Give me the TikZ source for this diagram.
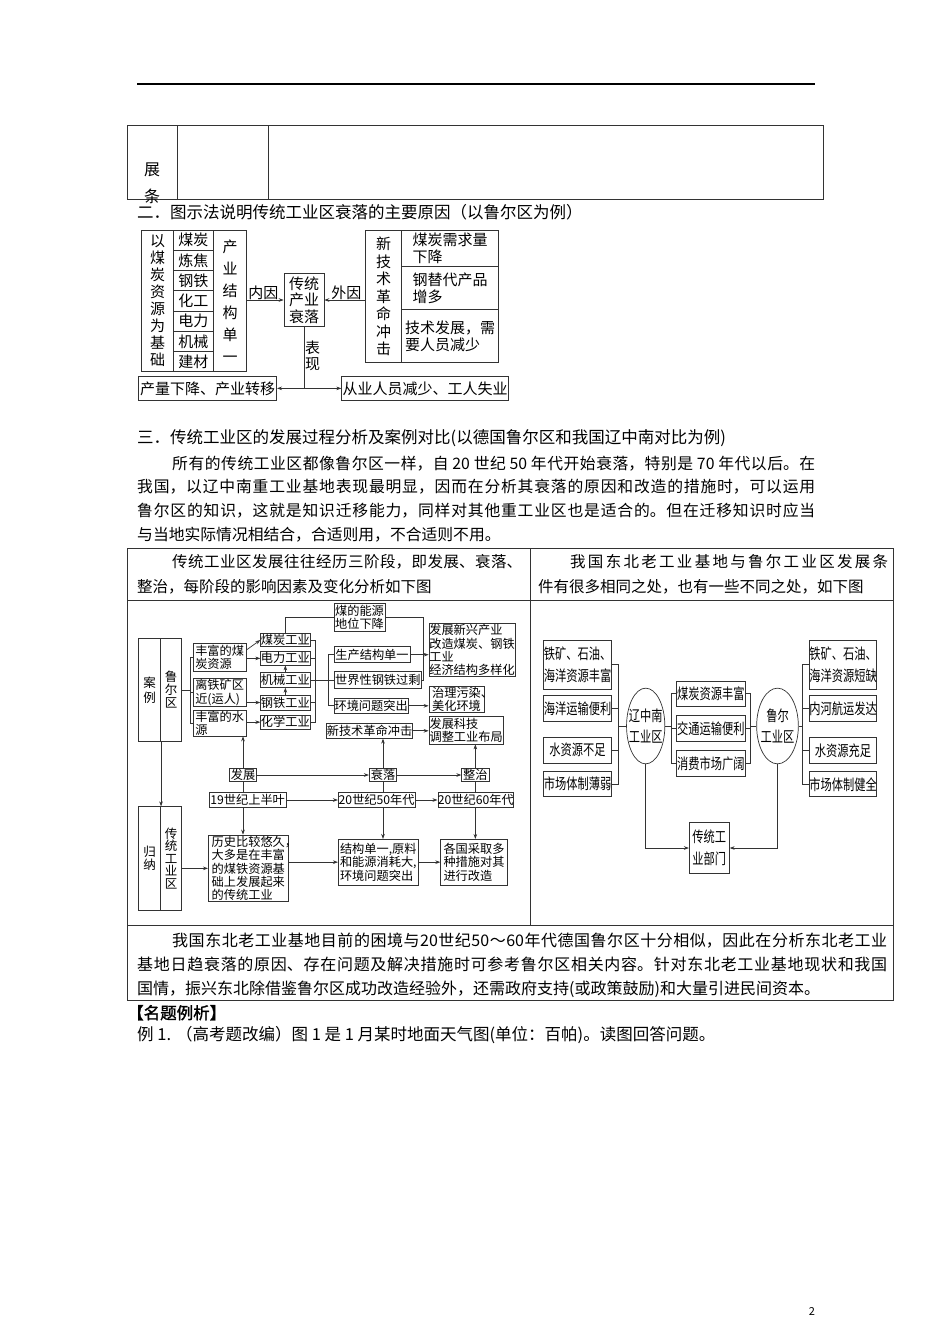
\documentclass[tikz,border=0pt]{standalone}
\usepackage{fontspec}
\setmainfont{Noto Sans CJK SC}
\newfontfamily\narrowf[FakeStretch=0.75]{Noto Sans CJK SC}
\newfontfamily\boldf[FakeBold=1.5]{Noto Sans CJK SC}
\usetikzlibrary{arrows.meta,shapes.geometric}
\XeTeXlinebreaklocale "zh"
\XeTeXlinebreakskip=0pt plus 4pt minus 0.5pt
\newcommand\bx[7][]{\node[B,#1,minimum width={(#5)-(#3)},minimum height={(#6)-(#4)}] (#2) at ({((#3)+(#5))/2},{((#4)+(#6))/2}) {#7};}
\begin{document}
\begin{tikzpicture}[x=1pt,y=-1pt,
  B/.style={draw=black!80,line width=0.7pt,inner sep=0pt,align=center},
  fA/.style={font=\fontsize{15}{17}\selectfont},
  fB/.style={font=\fontsize{12.2}{13.3}\selectfont},
  fC/.style={font=\narrowf\fontsize{15}{21.7}\selectfont},
  ln/.style={draw=black!80,line width=0.7pt},
  ar/.style={ln,-{Stealth[length=5pt,width=3.6pt]}},
  T/.style={inner sep=0pt,anchor=base west},
  rule/.style={draw=black!80,line width=0.9pt},
  para/.style={inner sep=0pt,anchor=base west,align=justify},
  E/.style={ellipse,draw=black!80,line width=0.7pt,inner sep=0pt}]
\useasboundingbox (0,0) rectangle (950,1344);
\fill[white] (0,0) rectangle (950,1344);
% header rule
\draw[line width=1.3pt] (137,84) -- (815,84);
% top partial table
\draw[rule] (127,125) rectangle (823,199);
\draw[rule] (177,125) -- (177,199);
\draw[rule] (268,125) -- (268,199);
\node[inner sep=0pt,font=\fontsize{16}{18}\selectfont] (z1) at (152,170) {展};
\node[inner sep=0pt,font=\fontsize{16}{18}\selectfont] (z2) at (152,196) {条};
\node[T,font=\fontsize{16.5}{20}\selectfont] (t2h) at (137,218) {二．图示法说明传统工业区衰落的主要原因（以鲁尔区为例）};
% ---------- diagram 2 ----------
\bx[font=\fontsize{15}{17}\selectfont]{L1}{141.7}{230}{173.3}{371.7}{以\\煤\\炭\\资\\源\\为\\基\\础}
\bx[fA]{m1}{173.3}{230}{213.3}{250.2}{煤炭}
\bx[fA]{m2}{173.3}{250.2}{213.3}{270.5}{炼焦}
\bx[fA]{m3}{173.3}{270.5}{213.3}{290.7}{钢铁}
\bx[fA]{m4}{173.3}{290.7}{213.3}{311}{化工}
\bx[fA]{m5}{173.3}{311}{213.3}{331.2}{电力}
\bx[fA]{m6}{173.3}{331.2}{213.3}{351.4}{机械}
\bx[fA]{m7}{173.3}{351.4}{213.3}{371.7}{建材}
\bx[font=\fontsize{15}{22}\selectfont]{L3}{213.3}{230}{246.7}{371.7}{产\\业\\结\\构\\单\\一}
\bx[font=\fontsize{15}{16.7}\selectfont]{P}{284}{273.3}{324}{326.7}{传统\\产业\\衰落}
\bx[font=\fontsize{15}{17.5}\selectfont]{R1}{365.3}{230}{401.7}{362.7}{新\\技\\术\\革\\命\\冲\\击}
\bx[fA,align=left]{R2}{401.7}{230}{498.3}{266.7}{煤炭需求量\\下降}
\bx[fA,align=left]{R3}{401.7}{266.7}{498.3}{309.3}{钢替代产品\\增多}
\bx[fA,align=left]{R4}{401.7}{309.3}{498.3}{362.7}{技术发展，需\\要人员减少}
\bx[fA]{Q1}{138.3}{376.7}{276.7}{400}{产量下降、产业转移}
\bx[fA]{Q2}{341.7}{376.7}{508.3}{400}{从业人员减少、工人失业}
\node[fA,inner sep=0pt] (n1) at (263.3,292.5) {内因};
\node[fA,inner sep=0pt] (n2) at (346.3,292.5) {外因};
\node[font=\fontsize{15}{15.7}\selectfont,inner sep=0pt,align=center] (n3) at (312.7,356) {表\\现};
\draw[ar] (P.west -| L3.east) -- (P.west);
\draw[ar] (P.east -| R1.west) -- (P.east);
\draw[ln] (P.south) -- (P.south |- Q1.east) coordinate (j1);
\draw[ar] (j1) -- (Q1.east);
\draw[ar] (j1) -- (Q2.west);
% ---------- section 3 text ----------
\node[T,font=\fontsize{16.5}{20}\selectfont] (t3h) at (137,443) {三．传统工业区的发展过程分析及案例对比(以德国鲁尔区和我国辽中南对比为例)};
\node[para,text width=678pt,font=\fontsize{15.8}{23.7}\selectfont] (p3) at (137,469) {\tolerance=10000\hspace*{35pt}所有的传统工业区都像鲁尔区一样，自 20 世纪 50 年代开始衰落，特别是 70 年代以后。在\linebreak 我国，以辽中南重工业基地表现最明显，因而在分析其衰落的原因和改造的措施时，可以运用\linebreak 鲁尔区的知识，这就是知识迁移能力，同样对其他重工业区也是适合的。但在迁移知识时应当\linebreak 与当地实际情况相结合，合适则用，不合适则不用。};
% ---------- table ----------
\draw[rule] (127,548) rectangle (893,1000);
\draw[rule] (127,600) -- (893,600);
\draw[rule] (127,925) -- (893,925);
\draw[rule] (530,548) -- (530,925);
\node[para,text width=385pt,font=\fontsize{15.5}{25}\selectfont] (hl) at (137,567) {\tolerance=10000\hspace*{35pt}传统工业区发展往往经历三阶段，即发展、衰落、\linebreak 整治，每阶段的影响因素及变化分析如下图};
\node[para,text width=350pt,font=\fontsize{15.5}{25}\selectfont] (hr) at (538,567) {\tolerance=10000\parfillskip=0pt\hspace*{32pt}我国东北老工业基地与鲁尔工业区发展条\linebreak 件有很多相同之处，也有一些不同之处，如下图};
\node[para,text width=750pt,font=\fontsize{16}{24}\selectfont] (bt) at (137,946) {\tolerance=10000\parfillskip=0pt\hspace*{35pt}我国东北老工业基地目前的困境与20世纪50～60年代德国鲁尔区十分相似，因此在分析东北老工业\linebreak 基地日趋衰落的原因、存在问题及解决措施时可参考鲁尔区相关内容。针对东北老工业基地现状和我国\linebreak 国情，振兴东北除借鉴鲁尔区成功改造经验外，还需政府支持(或政策鼓励)和大量引进民间资本。};
% ---------- left diagram ----------
\bx[font=\fontsize{12.5}{15}\selectfont]{c1}{138.3}{638.3}{160.7}{741.7}{案\\例}
\bx[font=\fontsize{12.5}{13}\selectfont]{c2}{160.7}{638.3}{181.7}{741.7}{鲁\\尔\\区}
\bx[font=\fontsize{12.5}{13.5}\selectfont]{g1}{138.3}{806.7}{160.7}{910}{归\\纳}
\bx[font=\fontsize{12.5}{12.5}\selectfont]{g2}{160.7}{806.7}{181.7}{910}{传\\统\\工\\业\\区}
\bx[fB,align=left]{s1}{193.3}{643.3}{246}{671.7}{丰富的煤\\炭资源}
\bx[fB,align=left]{s2}{193.3}{678.3}{246}{706.7}{离铁矿区\\近(运人)}
\bx[fB,align=left]{s3}{193.3}{710}{246}{736}{丰富的水\\源}
\bx[fB]{i1}{260.7}{633.3}{310}{646.7}{煤炭工业}
\bx[fB]{i2}{260.7}{651.7}{310}{665}{电力工业}
\bx[fB]{i3}{260.7}{672.7}{310}{687.3}{机械工业}
\bx[fB]{i4}{260.7}{695}{310}{710}{钢铁工业}
\bx[fB]{i5}{260.7}{715}{310}{729.3}{化学工业}
\bx[fB]{m0}{334}{603.3}{385}{631.7}{煤的能源\\地位下降}
\bx[fB]{w1}{334}{646.7}{410}{662.7}{生产结构单一}
\bx[fB]{w2}{334}{671.7}{421.7}{688.3}{世界性钢铁过剩}
\bx[fB]{w3}{334}{698.3}{408.3}{713.3}{环境问题突出}
\bx[fB]{w4}{327.3}{723.3}{411.7}{738.3}{新技术革命冲击}
\bx[fB,align=left]{r1}{429}{623.3}{515}{676.7}{发展新兴产业\\改造煤炭、钢铁\\工业\\经济结构多样化}
\bx[fB,align=left]{r2}{429}{686}{484}{712.7}{治理污染\rlap{、}\\美化环境}
\bx[fB,align=left]{r3}{429}{716}{503.3}{744}{发展科技\\调整工业布局}
\bx[fB]{st1}{229.3}{768.3}{256.7}{781.7}{发展}
\bx[fB]{st2}{369.3}{768.3}{396.7}{781.7}{衰落}
\bx[fB]{st3}{461.7}{768.3}{489}{781.7}{整治}
\bx[fB]{t1}{209.3}{792.7}{286}{807.3}{19世纪上半叶}
\bx[fB]{t2}{338.3}{792.7}{415}{807.3}{20世纪50年代}
\bx[fB]{t3}{438.3}{792.7}{513.3}{807.3}{20世纪60年代}
\bx[fB,align=left]{b1}{208.3}{835}{288.3}{901.7}{历史比较悠久\rlap{，}\\大多是在丰富\\的煤铁资源基\\础上发展起来\\的传统工业}
\bx[fB,align=left]{b2}{338.3}{839.3}{418.3}{885}{结构单一,原料\\和能源消耗大,\\环境问题突出}
\bx[fB,align=left]{b3}{440.7}{839.3}{507.3}{885}{各国采取多\\种措施对其\\进行改造}
\coordinate (k1) at (190,0);
\coordinate (k2) at (315,0);
\coordinate (k3) at (328.3,0);
\coordinate (k4) at (423.3,0);
\draw[ar] (c1.south east) -- (g1.north east);
\draw[ln] (c2.east) -- (c2.east -| k1);
\draw[ln] (s1.west -| k1) -- (s3.west -| k1);
\draw[ln] (s1.west -| k1) -- (s1.west);
\draw[ln] (s2.west -| k1) -- (s2.west);
\draw[ln] (s3.west -| k1) -- (s3.west);
\draw[ar] ([yshift=7.5pt]s1.east) -- (i1.west);
\draw[ar] (s1.east |- i2.west) -- (i2.west);
\draw[ar] (s2.east |- i4.west) -- (i4.west);
\draw[ar] (s3.east |- i5.west) -- (i5.west);
\draw[ar] (i4.north) -- (i3.south);
\draw[ar] (i3.north) -- (i2.south);
\draw[ln] (i1.east) -- (i1.east -| k2) -- (i5.east -| k2) -- (i5.east);
\draw[ln] (i2.east) -- (i2.east -| k2);
\draw[ln] (i4.east) -- (i4.east -| k2);
\draw[ln] (i3.east) -- (w2.west);
\draw[ln] (w1.west) -- (w1.west -| k3) -- (w3.west -| k3) -- (w3.west);
\draw[ln] (i1.north) |- (m0.west);
\draw[ln] (m0.east) -| (w2.east -| k4) -- (w2.east);
\draw[ar] (w1.east) -- (w1.east -| r1.west);
\draw[ar] (w3.east) -- (w3.east -| r2.west);
\draw[ar] (w4.east) -- (w4.east -| r3.west);
\draw[ar] (st1.east) -- (st2.west);
\draw[ar] (st2.east) -- (st3.west);
\draw[ar] (st1.north) -- (st1.north |- s3.south);
\draw[ar] (st2.north) -- (st2.north |- w4.south);
\draw[ar] (st3.north) -- (st3.north |- r3.south);
\draw[ln] (st1.south) -- (st1.south |- t1.north);
\draw[ln] (st2.south) -- (st2.south |- t2.north);
\draw[ln] (st3.south) -- (st3.south |- t3.north);
\draw[ar] (t1.east) -- (t2.west);
\draw[ar] (t2.east) -- (t3.west);
\draw[ar] (st1.south |- t1.south) -- (st1.south |- b1.north);
\draw[ar] (st2.south |- t2.south) -- (st2.south |- b2.north);
\draw[ar] (st3.south |- t3.south) -- (st3.south |- b3.north);
\draw[ar] (g2.east |- b1.west) -- (b1.west);
\draw[ar] (b1.east |- b2.west) -- (b2.west);
\draw[ar] (b2.east) -- (b3.west);
% ---------- right diagram ----------
\bx[fC]{lb1}{543.3}{640}{611.7}{689.3}{铁矿、石油、\\海洋资源丰富}
\bx[fC]{lb2}{543.3}{695}{611.7}{721.7}{海洋运输便利}
\bx[fC]{lb3}{543.3}{737.3}{611.7}{763.3}{水资源不足}
\bx[fC]{lb4}{543.3}{771.7}{611.7}{796.7}{市场体制薄弱}
\node[E,minimum width=38.3pt,minimum height=75.7pt] (e1) at (645.7,726) {};
\node[fC,inner sep=0pt,align=center] (e1t) at (e1.center) {辽中南\\工业区};
\bx[fC]{mb1}{676.7}{681}{745}{706}{煤炭资源丰富}
\bx[fC]{mb2}{676.7}{715}{745}{741.7}{交通运输便利}
\bx[fC]{mb3}{676.7}{750}{745}{776.7}{消费市场广阔}
\node[E,minimum width=41.7pt,minimum height=75.7pt] (e2) at (777.5,726) {};
\node[fC,inner sep=0pt,align=center] (e2t) at (e2.center) {鲁尔\\工业区};
\bx[fC]{rb1}{809.3}{640}{876.7}{689.3}{铁矿、石油、\\海洋资源短缺}
\bx[fC]{rb2}{809.3}{695}{876.7}{721.7}{内河航运发达}
\bx[fC]{rb3}{809.3}{737.3}{876.7}{763.3}{水资源充足}
\bx[fC]{rb4}{809.3}{771.7}{876.7}{796.7}{市场体制健全}
\bx[font=\narrowf\fontsize{15}{22}\selectfont]{tb}{689.3}{822.7}{729.3}{873.3}{传统工\\业部门}
\coordinate (q1) at (618.3,0);
\coordinate (q2) at (671.7,0);
\coordinate (q3) at (750,0);
\coordinate (q4) at (802.7,0);
\draw[ln] (lb1.east) -- (lb1.east -| q1) -- (lb4.east -| q1) -- (lb4.east);
\draw[ln] (lb2.east) -- (lb2.east -| q1);
\draw[ln] (lb3.east) -- (lb3.east -| q1);
\draw[ln] (e1.west -| q1) -- (e1.west);
\draw[ln] (mb1.west) -- (mb1.west -| q2) -- (mb3.west -| q2) -- (mb3.west);
\draw[ln] (mb2.west) -- (mb2.west -| q2);
\draw[ln] (e1.east) -- (e1.east -| q2);
\draw[ln] (mb1.east) -- (mb1.east -| q3) -- (mb3.east -| q3) -- (mb3.east);
\draw[ln] (mb2.east) -- (mb2.east -| q3);
\draw[ln] (e2.west -| q3) -- (e2.west);
\draw[ln] (rb1.west) -- (rb1.west -| q4) -- (rb4.west -| q4) -- (rb4.west);
\draw[ln] (rb2.west) -- (rb2.west -| q4);
\draw[ln] (rb3.west) -- (rb3.west -| q4);
\draw[ln] (e2.east) -- (e2.east -| q4);
\draw[ar] (e1.south) |- (tb.west);
\draw[ar] (e2.south) |- (tb.east);
% ---------- after table ----------
\node[T,font=\boldf\fontsize{16.5}{20}\selectfont] (h4) at (127,1019) {【名题例析】};
\node[T,font=\fontsize{16.5}{20}\selectfont] (ex1) at (137,1040) {例 1. （高考题改编）图 1 是 1 月某时地面天气图(单位：百帕)。读图回答问题。};
\node[inner sep=0pt,font=\fontsize{11}{12}\selectfont] (pg) at (812,1311) {2};
\end{tikzpicture}
\end{document}
